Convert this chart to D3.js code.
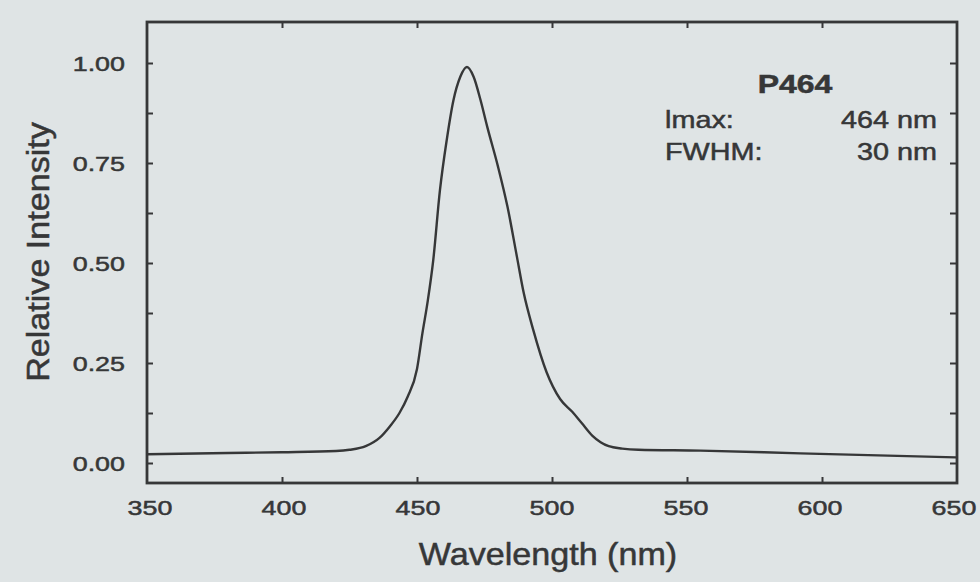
<!DOCTYPE html>
<html>
<head>
<meta charset="utf-8">
<script src="https://cdn.jsdelivr.net/npm/d3@7"></script>
<style>
  html, body { margin: 0; padding: 0; background: #dfe4e5; }
  svg { display: block; }
</style>
</head>
<body>
<div class="spectrum"></div>
<script>
// emission spectrum
const wavelengths = [350, 380, 400, 420, 425, 431, 436, 440, 443.5, 446.5, 450, 452, 454, 456, 458.5, 461, 463.5, 466, 468.5, 471, 473.5, 476, 480, 483.5, 487, 489.5, 493, 498, 503, 507.5, 511, 515, 518, 521, 526, 532, 555, 592, 650];
const intensities = [0.022, 0.025, 0.027, 0.030, 0.033, 0.042, 0.062, 0.092, 0.125, 0.165, 0.235, 0.324, 0.406, 0.506, 0.682, 0.807, 0.907, 0.965, 0.99, 0.965, 0.908, 0.841, 0.741, 0.641, 0.516, 0.426, 0.334, 0.227, 0.160, 0.128, 0.100, 0.068, 0.052, 0.042, 0.036, 0.033, 0.031, 0.024, 0.014];

const yTickLabels = [0, 0.25, 0.5, 0.75, 1.0];
const yMinorTicks = [0, 0.125, 0.25, 0.375, 0.5, 0.625, 0.75, 0.875, 1.0];
const xTickLabels = [350, 400, 450, 500, 550, 600, 650];

const infoTitle = "P464";
const infoRows = [["lmax:", "464 nm"], ["FWHM:", "30 nm"]];

const width = 980;
const height = 582;
const margin = { top: 22, right: 23, bottom: 99, left: 147 };
const ink = "#363738";

const svg = d3
  .select(".spectrum")
  .append("svg")
  .attr("width", width)
  .attr("height", height);

const x = d3
  .scaleLinear()
  .domain([350, 650])
  .range([margin.left, width - margin.right]);

// 0.00 sits at y=463, 1.00 at y=63
const y = d3.scaleLinear().domain([0, 1]).range([463, 63]);

const plotTop = margin.top;
const plotBottom = height - margin.bottom;

// stretched, slightly heavy text like the old plotter print
const label = (g, px, py, str, opts = {}) => {
  const sx = opts.sx || 1.28;
  const rot = opts.rotate ? ` rotate(${opts.rotate})` : "";
  return g
    .append("text")
    .attr("transform", `translate(${px},${py})${rot} scale(${sx},1)`)
    .attr("text-anchor", opts.anchor || "start")
    .attr("dominant-baseline", opts.baseline || "alphabetic")
    .style("font-family", "'Liberation Sans', Arial, sans-serif")
    .style("font-size", `${opts.size || 21}px`)
    .style("font-weight", opts.bold ? "bold" : "normal")
    .style("fill", ink)
    .style("stroke", ink)
    .style("stroke-width", 0.5)
    .text(str);
};

// axes, ticks inward on all four sides
svg
  .append("g")
  .attr("transform", `translate(${margin.left},0)`)
  .call(d3.axisRight(y).tickValues(yMinorTicks).tickSize(6).tickFormat(""))
  .call((g) => g.select(".domain").remove());

svg
  .append("g")
  .attr("transform", `translate(${width - margin.right},0)`)
  .call(d3.axisLeft(y).tickValues(yMinorTicks).tickSize(7).tickFormat(""))
  .call((g) => g.select(".domain").remove());

svg
  .append("g")
  .attr("transform", `translate(0,${plotTop})`)
  .call(d3.axisBottom(x).tickValues(xTickLabels.slice(1, -1)).tickSize(6).tickFormat(""))
  .call((g) => g.select(".domain").remove());

svg
  .append("g")
  .attr("transform", `translate(0,${plotBottom})`)
  .call(d3.axisTop(x).tickValues(xTickLabels.slice(1, -1)).tickSize(6).tickFormat(""))
  .call((g) => g.select(".domain").remove());

svg.selectAll(".tick line").attr("stroke", ink).attr("stroke-width", 2);

// frame
svg
  .append("rect")
  .attr("x", margin.left)
  .attr("y", plotTop)
  .attr("width", width - margin.right - margin.left)
  .attr("height", plotBottom - plotTop)
  .attr("fill", "none")
  .attr("stroke", ink)
  .attr("stroke-width", 2.8);

// tick labels (the print drifts a little left toward the right end)
yTickLabels.forEach((v) => {
  label(svg, 125, y(v) + 1, d3.format(".2f")(v), { anchor: "end", baseline: "central" });
});
xTickLabels.forEach((v) => {
  const drift = 3 - (6 * (v - 350)) / 300;
  label(svg, x(v) + drift, 515, String(v), { anchor: "middle" });
});

// axis titles
label(svg, 548, 565, "Wavelength (nm)", { anchor: "middle", size: 31, sx: 1.1 });
label(svg, 49, 252, "Relative Intensity", { anchor: "middle", size: 31, sx: 1.1, rotate: -90 });

// spectrum
const line = d3
  .line()
  .x((d) => x(d[0]))
  .y((d) => y(d[1]))
  .curve(d3.curveMonotoneX);

svg
  .append("path")
  .datum(d3.zip(wavelengths, intensities))
  .attr("d", line)
  .attr("fill", "none")
  .attr("stroke", ink)
  .attr("stroke-width", 2.4);

// info block
label(svg, 795, 93, infoTitle, { anchor: "middle", size: 25, bold: true, sx: 1.28 });
infoRows.forEach((row, i) => {
  const by = 128 + i * 32;
  label(svg, 665, by, row[0], { size: 24, sx: 1.2 });
  label(svg, 937, by, row[1], { anchor: "end", size: 24, sx: 1.2 });
});
</script>
</body>
</html>
